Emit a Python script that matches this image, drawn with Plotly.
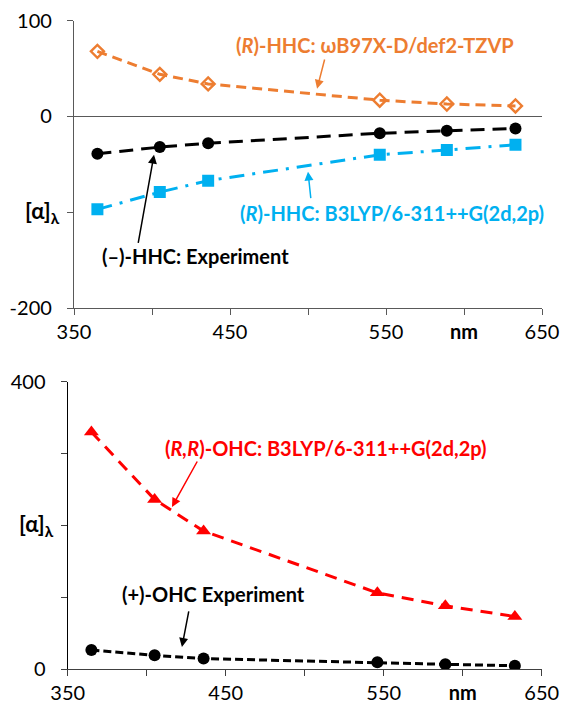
import plotly.graph_objects as go

# ---------------- data ----------------
wavelength = [365, 405, 436, 546, 589, 633]

hhc_wb97xd = [68, 44, 34, 17, 13, 11]
hhc_exp = [-39, -32, -28, -17.5, -15, -12.5]
hhc_b3lyp = [-97, -79, -67, -40, -35, -29.5]

ohc_b3lyp = [330, 236, 192, 106, 88, 73]
ohc_exp = [26.5, 19, 14.5, 9.5, 6.5, 4.5]

x_tickvals = [350, 400, 450, 500, 550, 600, 650]
x_ticktext = ["350", "", "450", "", "550", "<b>nm</b>", "650"]
y1_tickvals = [-200, -100, 0, 100]
y1_ticktext = ["-200", "", "0", "100"]
y2_tickvals = [0, 100, 200, 300, 400]
y2_ticktext = ["0", "", "", "", "400"]

ORANGE = "#ED7D31"
BLUE = "#00B0F0"
RED = "#FF0000"
BLACK = "#000000"
FONT = "Lato"

W, H = 562, 709

fig = go.Figure()

# top panel
fig.add_trace(go.Scatter(x=wavelength, y=hhc_wb97xd, xaxis="x", yaxis="y", mode="lines+markers",
                         line=dict(color=ORANGE, width=3, dash="10px,6px"),
                         marker=dict(symbol="diamond-open", size=10, color=ORANGE, line=dict(width=2.4))))
fig.add_trace(go.Scatter(x=wavelength, y=hhc_exp, xaxis="x", yaxis="y", mode="lines+markers",
                         line=dict(color=BLACK, width=3, dash="14px,8px"),
                         marker=dict(symbol="circle", size=12, color=BLACK)))
fig.add_trace(go.Scatter(x=wavelength, y=hhc_b3lyp, xaxis="x", yaxis="y", mode="lines+markers",
                         line=dict(color=BLUE, width=3, dash="15px,8px,3px,8px"),
                         marker=dict(symbol="square", size=12, color=BLUE)))

# bottom panel
fig.add_trace(go.Scatter(x=wavelength, y=ohc_b3lyp, xaxis="x2", yaxis="y2", mode="lines+markers",
                         line=dict(color=RED, width=3, dash="12px,8px"),
                         marker=dict(symbol="triangle-up", size=13, color=RED)))
fig.add_trace(go.Scatter(x=wavelength, y=ohc_exp, xaxis="x2", yaxis="y2", mode="lines+markers",
                         line=dict(color=BLACK, width=3, dash="8px,4px"),
                         marker=dict(symbol="circle", size=12, color=BLACK)))

tickfont = dict(family=FONT, size=20, color="#000")

def xax(domain, anchor, col):
    return dict(domain=domain, anchor=anchor, range=[350, 650], tickvals=x_tickvals, ticktext=x_ticktext,
                showline=True, linecolor=col, linewidth=1.3, ticks="outside", ticklen=6, tickcolor=col,
                tickwidth=1.3, showgrid=False, zeroline=False, tickfont=tickfont, automargin=False)

fig.update_layout(
    width=W, height=H, margin=dict(l=0, r=0, t=0, b=0, autoexpand=False),
    paper_bgcolor="white", plot_bgcolor="white", showlegend=False,
    xaxis=xax([74 / W, 542 / W], "y", "#595959"),
    yaxis=dict(domain=[(H - 308) / H, (H - 20.7) / H], anchor="x", range=[-200, 100],
               tickvals=y1_tickvals, ticktext=y1_ticktext, showline=True, linecolor="#595959",
               linewidth=1.3, ticks="outside", ticklen=6, tickcolor="#595959", tickwidth=1.3,
               showgrid=False, zeroline=True, zerolinecolor="#595959", zerolinewidth=1.3,
               tickfont=tickfont, automargin=False, ticklabelstandoff=11),
    xaxis2=xax([67.7 / W, 541.7 / W], "y2", "#404040"),
    yaxis2=dict(domain=[(H - 669) / H, (H - 381.7) / H], anchor="x2", range=[0, 400],
                tickvals=y2_tickvals, ticktext=y2_ticktext, showline=True, linecolor="#000",
                linewidth=1.3, ticks="outside", ticklen=6, tickcolor="#404040", tickwidth=1.3,
                showgrid=False, zeroline=False, tickfont=tickfont, automargin=False,
                ticklabelstandoff=11),
)

def label(text, x, y, color, xref, yref, size=20):
    fig.add_annotation(text=text, x=x, y=y, xref=xref, yref=yref, showarrow=False,
                       font=dict(family=FONT, size=size, color=color), xanchor="center", yanchor="middle")

def arrow(x0, y0, x1, y1, color, xref, yref):
    fig.add_annotation(text="", x=x1, y=y1, ax=x0, ay=y0, xref=xref, yref=yref, axref=xref, ayref=yref,
                       showarrow=True, arrowhead=2, arrowsize=1.2, arrowwidth=1.5, arrowcolor=color)

# top annotations
label("<b>(<i>R</i>)-HHC: ωB97X-D/def2-TZVP</b>", 543, 74.7, ORANGE, "x", "y")
arrow(510.9, 61.1, 505.8, 28.9, ORANGE, "x", "y")
label("<b>(<i>R</i>)-HHC: B3LYP/6-311++G(2d,2p)</b>", 554, -100.3, BLUE, "x", "y")
arrow(501.9, -86.8, 500, -57.6, BLUE, "x", "y")
label("<b>(–)-HHC: Experiment</b>", 428.2, -146, BLACK, "x", "y")
arrow(391, -133.6, 401.3, -39.9, BLACK, "x", "y")

# bottom annotations
label("<b>(<i>R,R</i>)-OHC: B3LYP/6-311++G(2d,2p)</b>", 513.5, 307.8, RED, "x2", "y2")
arrow(432.5, 291, 416, 225.6, RED, "x2", "y2")
label("<b>(+)-OHC Experiment</b>", 442, 104.5, BLACK, "x2", "y2")
arrow(426.8, 82.2, 422.3, 30.6, BLACK, "x2", "y2")

# y-axis titles
fig.add_annotation(text="<b>[α]<sub>λ</sub></b>", x=62 / W, y=(H - 212) / H, xref="paper", yref="paper",
                   showarrow=False, xanchor="right", yanchor="middle",
                   font=dict(family=FONT, size=22, color="#000"))
fig.add_annotation(text="<b>[α]<sub>λ</sub></b>", x=56 / W, y=(H - 525) / H, xref="paper", yref="paper",
                   showarrow=False, xanchor="right", yanchor="middle",
                   font=dict(family=FONT, size=22, color="#000"))

fig.write_html("out.html")
